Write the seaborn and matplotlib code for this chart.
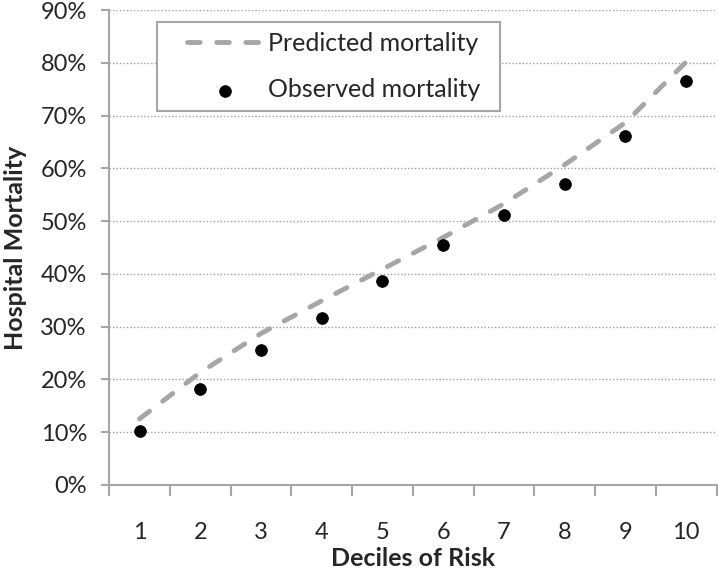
import numpy as np
import pandas as pd
import matplotlib
matplotlib.use("Agg")
import matplotlib.pyplot as plt
import seaborn as sns
from matplotlib.ticker import PercentFormatter, FixedLocator
from matplotlib.legend_handler import HandlerLine2D, HandlerPathCollection
from matplotlib.lines import Line2D
from matplotlib.collections import PathCollection

# donnees
deciles = [1, 2, 3, 4, 5, 6, 7, 8, 9, 10]
predicted = [12.5, 21.3, 28.7, 34.9, 40.9, 46.9, 53.3, 60.7, 68.7, 80.2]
observed = [10.2, 18.1, 25.6, 31.6, 38.7, 45.4, 51.2, 57.0, 66.1, 76.5]
y_ticks = [0, 10, 20, 30, 40, 50, 60, 70, 80, 90]

df = pd.DataFrame({"decile": deciles, "predicted": predicted, "observed": observed})

sns.set_style("white")
plt.rcParams['font.family'] = ['Lato', 'DejaVu Sans']

fig = plt.figure(figsize=(7.18, 5.69), dpi=100)
ax = fig.add_axes([0.152, 0.148, 0.846, 0.834])

grey = "#a6a6a6"

sns.lineplot(data=df, x="decile", y="predicted", ax=ax, color=grey, linewidth=3.5,
             label="Predicted mortality", zorder=2)
ax.lines[0].set_dashes([2.6, 3.4])
ax.lines[0].set_dash_capstyle("round")
sns.scatterplot(data=df, x="decile", y="observed", ax=ax, color="black", s=70,
                edgecolor="black", label="Observed mortality", zorder=3)

ax.set_xlim(0.5, 10.5)
ax.set_ylim(0, 90)
ax.set_yticks(y_ticks)
ax.yaxis.set_major_formatter(PercentFormatter(decimals=0))
ax.set_xticks(deciles)
ax.set_xticklabels([str(d) for d in deciles])
ax.xaxis.set_minor_locator(FixedLocator(np.arange(0.5, 11, 1)))

ax.grid(axis="y", linestyle=(0, (1, 1.5)), color="#a0a0a0", linewidth=1)
ax.set_axisbelow(True)

for s in ["top", "right"]:
    ax.spines[s].set_visible(False)
for s in ["left", "bottom"]:
    ax.spines[s].set_color(grey)
    ax.spines[s].set_linewidth(1.5)

ax.tick_params(axis="x", which="major", length=0, pad=27, labelsize=17)
ax.tick_params(axis="x", which="minor", length=8, width=1.5, color=grey, direction="out", bottom=True)
ax.tick_params(axis="y", length=6, width=1.5, color=grey, direction="out", left=True, labelsize=17, pad=10)

ax.set_xlabel("Deciles of Risk", fontsize=18, fontweight="bold", labelpad=3)
ax.set_ylabel("Hospital Mortality", fontsize=18, fontweight="bold", labelpad=10)

# decalage des symboles de legende vers la droite
hmap = {Line2D: HandlerLine2D(xpad=0.8), PathCollection: HandlerPathCollection(xpad=0.8)}
leg = ax.legend(loc="upper left", bbox_to_anchor=(0.079, 0.975, 0.564, 0.0), mode="expand",
                borderaxespad=0, fancybox=False, edgecolor=grey, framealpha=1, fontsize=18,
                handlelength=3.8, handletextpad=0.25, borderpad=0.4, labelspacing=0.92,
                handler_map=hmap)
leg.get_frame().set_linewidth(1.5)

fig.savefig("out.png", dpi=100)
